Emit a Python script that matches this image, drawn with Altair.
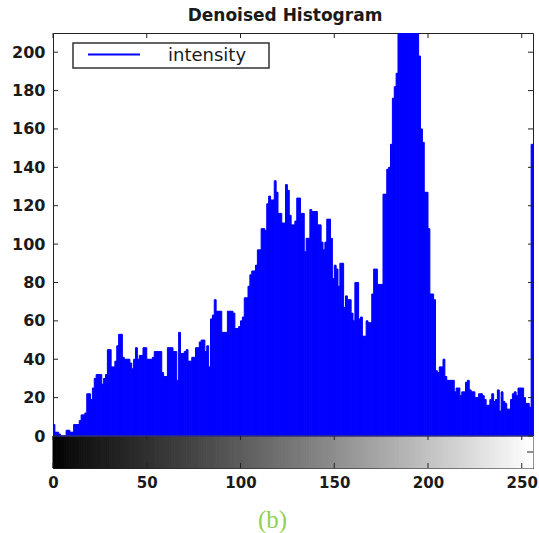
import altair as alt
import pandas as pd

# ---- data ----
counts = [
    6, 2, 2, 1, 0, 0, 0, 3, 3, 2,
    2, 6, 6, 6, 8, 11, 11, 12, 22, 22,
    19, 25, 30, 32, 32, 32, 27, 30, 32, 45,
    45, 36, 36, 39, 47, 53, 53, 41, 40, 40,
    40, 38, 35, 40, 46, 40, 42, 42, 46, 46,
    40, 40, 40, 41, 44, 44, 44, 44, 33, 31,
    31, 46, 46, 46, 44, 44, 29, 54, 43, 43,
    44, 45, 39, 39, 41, 41, 46, 46, 49, 50,
    50, 44, 47, 36, 61, 63, 71, 65, 65, 65,
    54, 54, 54, 65, 65, 65, 64, 56, 56, 57,
    60, 62, 72, 72, 78, 84, 86, 86, 89, 97,
    97, 108, 108, 107, 121, 125, 123, 123, 133, 127,
    116, 116, 111, 111, 131, 128, 115, 110, 110, 112,
    124, 124, 116, 116, 96, 103, 103, 118, 117, 117,
    117, 110, 110, 101, 97, 101, 113, 113, 103, 82,
    89, 87, 78, 90, 90, 67, 73, 71, 71, 64,
    60, 80, 80, 61, 62, 52, 52, 60, 59, 59,
    74, 87, 87, 79, 79, 79, 126, 126, 139, 140,
    152, 176, 182, 189, 215, 245, 275, 300, 315, 320,
    310, 290, 265, 240, 215, 198, 160, 153, 127, 127,
    108, 74, 74, 71, 34, 33, 36, 36, 40, 31,
    29, 29, 29, 29, 23, 25, 25, 21, 23, 23,
    28, 29, 24, 23, 23, 20, 20, 22, 22, 21,
    19, 16, 16, 19, 22, 18, 19, 24, 13, 23,
    18, 17, 14, 14, 19, 22, 23, 21, 25, 25,
    25, 20, 17, 17, 15, 152,
]
gray_levels = list(range(256))
x_ticks = [0, 50, 100, 150, 200, 250]
y_ticks = [0, 20, 40, 60, 80, 100, 120, 140, 160, 180, 200]
series_name = ["intensity"]
title_text = "Denoised Histogram"
caption = "(b)"

# ---- layout constants (pixels) ----
W, H = 480, 435
HIST_H = 403
TEXT = "#1a1a1a"
FRAME = "#222222"
BLUE = "#0000ff"

hist_df = pd.DataFrame({"level": gray_levels, "count": counts})
xt_df = pd.DataFrame({"tick": x_ticks})
yt_df = pd.DataFrame({"tick": y_ticks})
leg_df = pd.DataFrame({"series": series_name})

x_scale = alt.Scale(domain=[0, 256], nice=False, zero=False)
y_scale = alt.Scale(domain=[0, 210], range=[HIST_H, 0], nice=False, clamp=True)

x_axis = alt.Axis(
    values=x_ticks, ticks=False, tickSize=0, domain=False, grid=False,
    labelFont="DejaVu Sans", labelFontSize=15, labelFontWeight="bold",
    labelColor=TEXT, labelPadding=7, labelFlush=False, labelOverlap=False,
    title=caption, titleFont="Liberation Serif", titleFontSize=25,
    titleFontWeight="normal", titleColor="#92D050", titleX=219, titleY=59,
    titleBaseline="alphabetic", titleAlign="center",
)
y_axis = alt.Axis(
    values=y_ticks, ticks=False, tickSize=0, domain=False, grid=False,
    labelFont="DejaVu Sans", labelFontSize=16, labelFontWeight="bold",
    labelColor=TEXT, labelPadding=8, labelFlush=False, labelOverlap=False,
    title=None,
)

X = alt.X("level:Q", scale=x_scale, axis=x_axis)
XT = alt.X("tick:Q", scale=x_scale, axis=x_axis)
YT = alt.Y("tick:Q", scale=y_scale, axis=y_axis)

gray_scale = alt.Scale(domain=[0, 255], range=["#000000", "#ffffff"])

colorbar = alt.Chart(hist_df).transform_calculate(
    level_end="datum.level + 1"
).mark_rect(strokeWidth=1).encode(
    x=X, x2="level_end:Q",
    y=alt.value(HIST_H), y2=alt.value(H),
    fill=alt.Fill("level:Q", scale=gray_scale, legend=None),
    stroke=alt.Stroke("level:Q", scale=gray_scale, legend=None),
)

bars = alt.Chart(hist_df).transform_calculate(
    level_end="datum.level + 1"
).mark_rect(color=BLUE, stroke=BLUE, strokeWidth=1, clip=True).encode(
    x=X, x2="level_end:Q",
    y=alt.Y("count:Q", scale=y_scale, axis=y_axis),
    y2=alt.datum(0),
)

baseline = alt.Chart(leg_df).mark_rule(color="#444444", strokeWidth=1).encode(
    x=alt.value(0), x2=alt.value(W), y=alt.value(HIST_H)
)

top_ticks = alt.Chart(xt_df).mark_rule(color=FRAME).encode(
    x=XT, y=alt.value(0), y2=alt.value(5)
)
mid_ticks = alt.Chart(xt_df).mark_rule(color=FRAME).encode(
    x=XT, y=alt.value(HIST_H), y2=alt.value(HIST_H + 4)
)
bottom_ticks = alt.Chart(xt_df).mark_rule(color=FRAME).encode(
    x=XT, y=alt.value(H - 5), y2=alt.value(H)
)
left_ticks = alt.Chart(yt_df).mark_rule(color=FRAME).encode(
    y=YT, x=alt.value(0), x2=alt.value(5)
)
right_ticks = alt.Chart(yt_df).mark_rule(color=FRAME).encode(
    y=YT, x=alt.value(W - 5), x2=alt.value(W)
)
cbar_tick = alt.Chart(leg_df).mark_rule(color=FRAME).encode(
    x=alt.value(W - 6), x2=alt.value(W), y=alt.value((HIST_H + H) / 2)
)

leg_box = alt.Chart(leg_df).mark_rect(fill="white", stroke="#333333", strokeWidth=1.5).encode(
    x=alt.value(20), x2=alt.value(216), y=alt.value(10), y2=alt.value(35)
)
leg_line = alt.Chart(leg_df).mark_rule(color=BLUE, strokeWidth=2).encode(
    x=alt.value(35), x2=alt.value(87), y=alt.value(21.5)
)
leg_text = alt.Chart(leg_df).mark_text(
    align="left", baseline="middle", font="DejaVu Sans", fontSize=18, color=TEXT
).encode(x=alt.value(115), y=alt.value(22.5), text="series:N")

chart = alt.layer(
    colorbar, bars, baseline, top_ticks, mid_ticks, bottom_ticks,
    left_ticks, right_ticks, cbar_tick, leg_box, leg_line, leg_text,
).resolve_scale(fill="independent", stroke="independent").properties(
    width=W, height=H,
    title=alt.TitleParams(
        text=title_text, font="DejaVu Sans", fontSize=17, fontWeight="bold",
        color=TEXT, anchor="middle", offset=8, dx=-8,
    ),
    autosize=alt.AutoSizeParams(type="none"),
    padding={"left": 53, "top": 33, "right": 6, "bottom": 65},
).configure_view(stroke=FRAME, strokeWidth=1)

chart.save("out.html", embed_options={"renderer": "svg", "actions": False})
